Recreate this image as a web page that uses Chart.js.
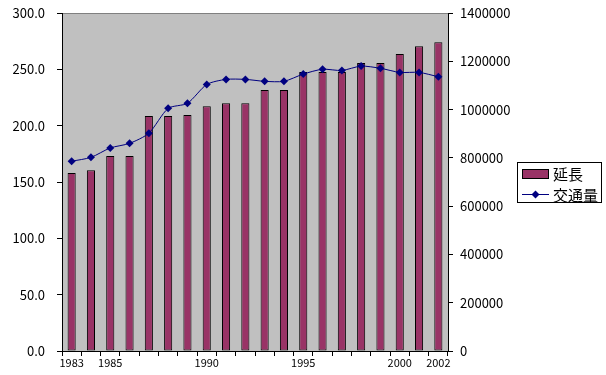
<!DOCTYPE html>
<html><head><meta charset="utf-8">
<script src="https://cdn.jsdelivr.net/npm/chart.js@4.4.1/dist/chart.umd.min.js"></script>
<style>html,body{margin:0;padding:0;background:#fff}#wrap{width:606px;height:375px}</style>
</head><body><div id="wrap"><canvas id="c" width="606" height="375"></canvas></div>
<script>
const years = ['1983','1984','1985','1986','1987','1988','1989','1990','1991','1992','1993','1994','1995','1996','1997','1998','1999','2000','2001','2002'];
const shownYears = ['1983','1985','1990','1995','2000','2002'];
const lengthValues = [158,160.5,173,173,208.5,208.5,209.5,217.2,220,220,231.7,231.7,247.6,247.6,247.6,255.6,255.6,263.6,270.4,274];
const trafficValues = [786000,802000,841000,860000,902000,1005000,1026000,1104000,1125000,1125000,1117000,1117000,1147000,1167000,1162000,1180000,1171000,1154000,1154000,1136000];
const seriesNames = ['延長','交通量'];
const leftTicks = [0,50,100,150,200,250,300];
const rightTicks = [0,200000,400000,600000,800000,1000000,1200000,1400000];

const FONT = '"Noto Sans CJK JP", "DejaVu Sans", sans-serif';
const BAR = '#993366', LINE = '#000080';

const bgPlugin = {
  id: 'bg',
  beforeDraw(chart) {
    const {ctx, chartArea: a} = chart;
    ctx.save();
    ctx.fillStyle = '#C0C0C0';
    ctx.fillRect(a.left, a.top, a.right - a.left, a.bottom - a.top);
    ctx.strokeStyle = '#808080';
    ctx.lineWidth = 1;
    ctx.beginPath();
    ctx.moveTo(a.left, a.top + 0.5); ctx.lineTo(a.right, a.top + 0.5);
    ctx.stroke();
    ctx.restore();
  },
  afterDraw(chart) {
    const ctx = chart.ctx;
    ctx.save();
    const x = 517.5, y = 162.5, w = 84, h = 40;
    ctx.fillStyle = '#fff';
    ctx.fillRect(x, y, w, h);
    ctx.strokeStyle = '#000';
    ctx.lineWidth = 1;
    ctx.strokeRect(x, y, w, h);
    ctx.fillStyle = BAR;
    ctx.fillRect(522.5, 169.5, 26, 9);
    ctx.strokeRect(522.5, 169.5, 26, 9);
    ctx.strokeStyle = LINE;
    ctx.beginPath(); ctx.moveTo(522, 194.5); ctx.lineTo(549, 194.5); ctx.stroke();
    ctx.fillStyle = LINE;
    ctx.beginPath();
    ctx.moveTo(535.5, 190.5); ctx.lineTo(539.5, 194.5); ctx.lineTo(535.5, 198.5); ctx.lineTo(531.5, 194.5); ctx.closePath(); ctx.fill();
    ctx.fillStyle = '#000';
    ctx.font = '15px ' + FONT;
    ctx.textBaseline = 'middle';
    ctx.textAlign = 'left';
    ctx.fillText(seriesNames[0], 553, 174);
    ctx.fillText(seriesNames[1], 553, 195);
    ctx.restore();
  }
};

function fixV(w) {
  return function(s) { s.width = w; s.paddingTop = 0; s.paddingBottom = 0; };
}

new Chart(document.getElementById('c'), {
  data: {
    labels: years,
    datasets: [
      { type: 'line', label: seriesNames[1], data: trafficValues, yAxisID: 'yR',
        borderColor: LINE, backgroundColor: LINE, borderWidth: 1, tension: 0.25,
        pointStyle: 'rectRot', pointRadius: 4, pointHoverRadius: 4, pointBorderWidth: 0, order: 0 },
      { type: 'bar', label: seriesNames[0], data: lengthValues, yAxisID: 'yL',
        backgroundColor: BAR, borderColor: '#000', borderWidth: 1, borderSkipped: false,
        barPercentage: 0.42, categoryPercentage: 1.0, order: 1 }
    ]
  },
  options: {
    responsive: false, animation: false,
    layout: { padding: { left: 0, right: 93, top: 13, bottom: 0 } },
    plugins: { legend: { display: false }, tooltip: { enabled: false } },
    scales: {
      x: {
        offset: true,
        grid: { offset: true, drawOnChartArea: false, drawTicks: true, tickLength: 5, color: '#000' },
        border: { color: '#000', width: 1 },
        ticks: { autoSkip: false, maxRotation: 0, padding: 0, color: '#000',
          font: { family: FONT, size: 11 },
          callback: function(v, i) { const y = years[i]; return shownYears.includes(y) ? y : ''; } },
        afterFit(s) { s.height = 24; s.paddingLeft = 0; s.paddingRight = 0; }
      },
      yL: {
        position: 'left', min: 0, max: 300,
        afterBuildTicks(s) { s.ticks = leftTicks.map(v => ({ value: v })); },
        grid: { drawOnChartArea: false, tickLength: 5, color: '#000' },
        border: { color: '#000', width: 1 },
        ticks: { color: '#000', padding: 12, font: { family: FONT, size: 13 },
          callback: v => Number(v).toFixed(1) },
        afterFit: fixV(62)
      },
      yR: {
        position: 'right', min: 0, max: 1400000,
        afterBuildTicks(s) { s.ticks = rightTicks.map(v => ({ value: v })); },
        grid: { drawOnChartArea: false, tickLength: 5, color: '#000' },
        border: { color: '#000', width: 1 },
        ticks: { color: '#000', padding: 7, font: { family: FONT, size: 13 },
          callback: v => String(v) },
        afterFit: fixV(65)
      }
    }
  },
  plugins: [bgPlugin]
});
</script></body></html>
